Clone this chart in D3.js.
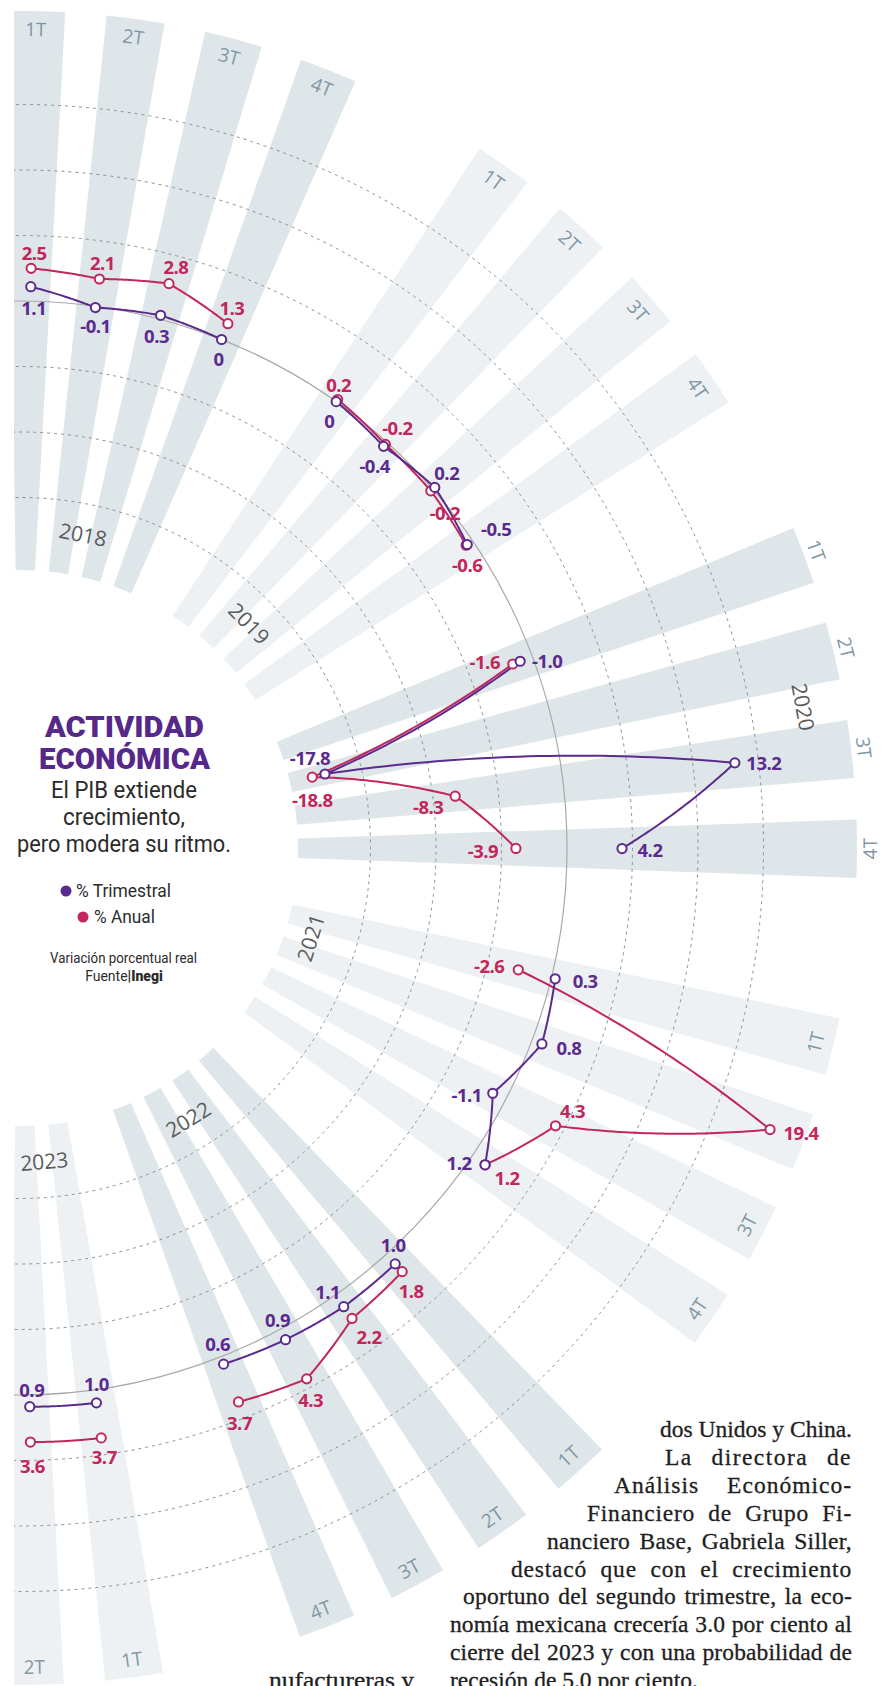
<!DOCTYPE html>
<html>
<head>
<meta charset="utf-8">
<script src="https://cdn.jsdelivr.net/npm/d3@7"></script>
<style>
  html, body { margin: 0; padding: 0; background: #fff; }
  svg { display: block; }
</style>
</head>
<body>
<div id="wrapper"></div>
<script>
// datos: variación porcentual real del PIB
const years = ["2018", "2019", "2020", "2021", "2022", "2023"];
const quarters = ["1T", "2T", "3T", "4T"];
const trimestral = [
    [1.1, -0.1, 0.3, 0],
    [0, -0.4, 0.2, -0.5],
    [-1.0, -17.8, 13.2, 4.2],
    [0.3, 0.8, -1.1, 1.2],
    [1.0, 1.1, 0.9, 0.6],
    [1.0, 0.9]
];
const anual = [
    [2.5, 2.1, 2.8, 1.3],
    [0.2, -0.2, -0.2, -0.6],
    [-1.6, -18.8, -8.3, -3.9],
    [-2.6, 19.4, 4.3, 1.2],
    [1.8, 2.2, 4.3, 3.7],
    [3.7, 3.6]
];
const ringValues = [-15, -10, -5, 0, 5, 10, 15];

// donde va cada etiqueta respecto a su punto (px)
const offsetsTrim = [
    [[3, 21], [0, 18], [-4, 20], [-3, 19]],
    [[-7, 19], [-9, 19], [12, -15], [29, -16]],
    [[27, -1], [-15, -17], [29, 0], [28, 1]],
    [[30, 2], [27, 4], [-26, 1], [-26, -2]],
    [[-2, -19], [-16, -15], [-8, -20], [-6, -21]],
    [[0, -19], [2, -17]]
];
const offsetsAnual = [
    [[3, -16], [3, -17], [7, -17], [4, -16]],
    [[1, -15], [12, -17], [14, 22], [1, 19]],
    [[-28, -2], [0, 22], [-27, 10], [-33, 2]],
    [[-29, -4], [31, 3], [17, -15], [22, 13]],
    [[9, 19], [17, 18], [4, 21], [1, 21]],
    [[3, 19], [2, 23]]
];
// etiqueta de trimestre que el original no muestra (tapada por 19.4)
const hiddenQuarterLabels = ["2021-2T"];

const texto = [
    "dos Unidos y China.",
    "La directora de",
    "Análisis Económico-",
    "Financiero de Grupo Fi-",
    "nanciero Base, Gabriela Siller,",
    "destacó que con el crecimiento",
    "oportuno del segundo trimestre, la eco-",
    "nomía mexicana crecería 3.0 por ciento al",
    "cierre del 2023 y con una probabilidad de",
    "recesión de 5.0 por ciento."
];
const textoInicio = [null, 665, 614, 587, 547, 511, 463, 450, 450, 450];

const colorTrim = "#5a2b8c";
const colorAnual = "#c2265a";

function buildChart() {
    const width = 890, height = 1686;
    const cx = 20, cy = 848;
    const toRad = Math.PI / 180;

    const svg = d3.select("#wrapper").append("svg")
        .attr("width", width)
        .attr("height", height);

    svg.append("defs").append("clipPath").attr("id", "clip")
        .append("rect").attr("x", 14).attr("y", 0).attr("width", width - 14).attr("height", height);

    // escalas: posición del trimestre -> ángulo, valor -> radio
    const angle = d3.scaleLinear().domain([0, 26]).range([1.1 * toRad, 179 * toRad]);
    const radius = d3.scaleLinear().domain([-15, 15]).range([350.5, 743.5]);
    const slot = (yi, qi) => yi * 5 + qi;

    const chart = svg.append("g")
        .attr("clip-path", "url(#clip)")
        .append("g")
        .attr("transform", `translate(${cx},${cy})`);

    const rot = a => {
        const deg = a / toRad;
        return deg <= 90 ? deg : deg - 180;
    };

    // bandas de trimestres
    const bandArc = d3.arc().innerRadius(278).outerRadius(837);
    const bandData = [];
    years.forEach((y, yi) => {
        trimestral[yi].forEach((v, qi) => bandData.push({ yi, qi, a: angle(slot(yi, qi)) }));
    });
    chart.selectAll(".band").data(bandData).join("path")
        .attr("class", "band")
        .attr("d", d => bandArc({ startAngle: d.a - 2 * toRad, endAngle: d.a + 2 * toRad }))
        .attr("fill", d => d.yi % 2 === 0 ? "#dfe6ea" : "#edf1f4");

    // etiquetas 1T..4T
    chart.selectAll(".qlabel")
        .data(bandData.filter(d => !hiddenQuarterLabels.includes(`${years[d.yi]}-${quarters[d.qi]}`)))
        .join("text")
        .attr("class", "qlabel")
        .attr("transform", d => {
            const r = d.yi === 2 ? 850 : 819;
            const [x, y] = d3.pointRadial(d.a, r);
            return `translate(${x},${y}) rotate(${rot(d.a)})`;
        })
        .attr("text-anchor", "middle")
        .attr("dominant-baseline", "central")
        .attr("font-family", "'Open Sans', sans-serif")
        .attr("font-size", 19)
        .attr("fill", "#7f97a5")
        .text(d => quarters[d.qi]);

    // anillos de referencia
    const arcStart = -3 * toRad - Math.PI / 2, arcEnd = 183 * toRad - Math.PI / 2;
    chart.selectAll(".ring").data(ringValues).join("path")
        .attr("class", "ring")
        .attr("d", v => {
            const p = d3.path();
            const r = radius(v);
            p.moveTo(r * Math.cos(arcStart), r * Math.sin(arcStart));
            p.arc(0, 0, r, arcStart, arcEnd);
            return p.toString();
        })
        .attr("fill", "none")
        .attr("stroke", v => v === 0 ? "#a9a9a9" : "#8f8f8f")
        .attr("stroke-width", v => v === 0 ? 1.2 : 1)
        .attr("stroke-dasharray", v => v === 0 ? null : "3,4");

    // etiquetas de año
    const yearSlot = [1.5, 6.5, 11.5, 15.5, 21.5, 25.5];
    const yearR = [320, 321, 796, 304, 319, 314];
    chart.selectAll(".ylabel").data(years).join("text")
        .attr("class", "ylabel")
        .attr("transform", (d, i) => {
            const a = angle(yearSlot[i]);
            const [x, y] = d3.pointRadial(a, yearR[i]);
            return `translate(${x},${y}) rotate(${rot(a)})`;
        })
        .attr("text-anchor", "middle")
        .attr("dominant-baseline", "central")
        .attr("font-family", "'Open Sans', sans-serif")
        .attr("font-size", 21)
        .attr("fill", "#5b5b5b")
        .text(d => d);

    // líneas: interpoladas en coordenadas polares
    const polarPath = pts => {
        const p = d3.path();
        pts.forEach((d, i) => {
            if (i === 0) {
                const [x, y] = d3.pointRadial(d.a, d.r);
                p.moveTo(x, y);
                return;
            }
            const ia = d3.interpolate(pts[i - 1].a, d.a);
            const ir = d3.interpolate(pts[i - 1].r, d.r);
            for (let s = 1; s <= 40; s++) {
                const [x, y] = d3.pointRadial(ia(s / 40), ir(s / 40));
                p.lineTo(x, y);
            }
        });
        return p.toString();
    };

    const locale = d3.formatLocale({ decimal: ".", thousands: ",", grouping: [3], currency: ["", ""], minus: "-" });
    const f1 = locale.format(".1f");
    const fmt = v => v === 0 ? "0" : f1(v);

    const series = [
        { name: "anual", values: anual, color: colorAnual, offsets: offsetsAnual },
        { name: "trim", values: trimestral, color: colorTrim, offsets: offsetsTrim }
    ];

    series.forEach(s => {
        s.pts = s.values.map((row, yi) => row.map((v, qi) => ({
            v, yi, qi,
            a: angle(slot(yi, qi)),
            r: radius(v),
            off: s.offsets[yi][qi]
        })));
    });

    series.forEach(s => {
        chart.append("g").selectAll("path").data(s.pts).join("path")
            .attr("d", polarPath)
            .attr("fill", "none")
            .attr("stroke", s.color)
            .attr("stroke-width", 2);
    });

    series.forEach(s => {
        const flat = s.pts.flat();
        chart.append("g").selectAll("circle").data(flat).join("circle")
            .attr("cx", d => d3.pointRadial(d.a, d.r)[0])
            .attr("cy", d => d3.pointRadial(d.a, d.r)[1])
            .attr("r", 4.6)
            .attr("fill", "#fff")
            .attr("stroke", s.color)
            .attr("stroke-width", 2);
    });

    series.forEach(s => {
        const flat = s.pts.flat();
        chart.append("g").selectAll("text").data(flat).join("text")
            .attr("x", d => d3.pointRadial(d.a, d.r)[0] + d.off[0])
            .attr("y", d => d3.pointRadial(d.a, d.r)[1] + d.off[1])
            .attr("text-anchor", "middle")
            .attr("dominant-baseline", "central")
            .attr("font-family", "'Open Sans', sans-serif")
            .attr("font-weight", 700)
            .attr("font-size", 18.5)
            .attr("letter-spacing", -0.5)
            .attr("fill", s.color)
            .text(d => fmt(d.v));
    });

    // título y leyenda
    const titulo = svg.append("g").attr("font-family", "Roboto, sans-serif");
    const tline = (txt, x, y, len, size, weight, fill) => titulo.append("text")
        .attr("x", x).attr("y", y)
        .attr("font-size", size)
        .attr("font-weight", weight)
        .attr("fill", fill)
        .attr("textLength", len)
        .attr("lengthAdjust", "spacingAndGlyphs")
        .text(txt);

    tline("ACTIVIDAD", 45, 737, 159, 29, 900, "#56288a");
    tline("ECONÓMICA", 39, 769, 171, 29, 900, "#56288a");
    tline("El PIB extiende", 51, 798, 146, 23, 400, "#2b2b2b");
    tline("crecimiento,", 63, 825, 122, 23, 400, "#2b2b2b");
    tline("pero modera su ritmo.", 17, 852, 214, 23, 400, "#2b2b2b");

    titulo.append("circle").attr("cx", 66).attr("cy", 891).attr("r", 5.5).attr("fill", colorTrim);
    tline("% Trimestral", 76, 897, 95, 18, 400, "#2b2b2b");
    titulo.append("circle").attr("cx", 83).attr("cy", 917).attr("r", 5.5).attr("fill", colorAnual);
    tline("% Anual", 94, 923, 61, 18, 400, "#2b2b2b");

    tline("Variación porcentual real", 50, 963, 147, 14, 400, "#2b2b2b");
    const fuente = titulo.append("text")
        .attr("x", 124).attr("y", 981)
        .attr("text-anchor", "middle")
        .attr("font-size", 14)
        .attr("fill", "#2b2b2b");
    fuente.append("tspan").text("Fuente");
    fuente.append("tspan").attr("font-weight", 900).text("|Inegi");

    // texto de la nota, justificado: parte en letras, parte entre palabras
    const right = 852;
    const nota = svg.append("g")
        .attr("font-family", "'Liberation Serif', serif")
        .attr("font-size", 23.5)
        .attr("fill", "#1e1e1e")
        .attr("stroke", "#1e1e1e")
        .attr("stroke-width", 0.3);
    const justify = (t, x0) => {
        const target = right - x0;
        const txt = t.text();
        const natural = t.node().getComputedTextLength();
        const gaps = txt.split(" ").length - 1;
        if (natural < target && gaps > 0) {
            const ls = Math.min((target - natural) * 0.45 / (txt.length - 1), 2.2);
            t.attr("letter-spacing", ls);
            const withLs = t.node().getComputedTextLength();
            t.attr("word-spacing", Math.max(0, (target - withLs) / gaps));
        } else {
            t.attr("textLength", target).attr("lengthAdjust", "spacingAndGlyphs");
        }
    };
    texto.forEach((line, i) => {
        const y = 1437 + i * 27.9;
        const t = nota.append("text").attr("y", y).text(line);
        if (textoInicio[i] === null) {
            t.attr("x", right).attr("text-anchor", "end");
        } else if (i === texto.length - 1) {
            t.attr("x", textoInicio[i]);
        } else {
            t.attr("x", textoInicio[i]);
            justify(t, textoInicio[i]);
        }
    });
    const ult = nota.append("text").attr("x", 269).attr("y", 1437 + 9 * 27.9)
        .text("nufactureras y");
    ult.attr("textLength", 145).attr("lengthAdjust", "spacingAndGlyphs");
}

buildChart();
</script>
</body>
</html>
